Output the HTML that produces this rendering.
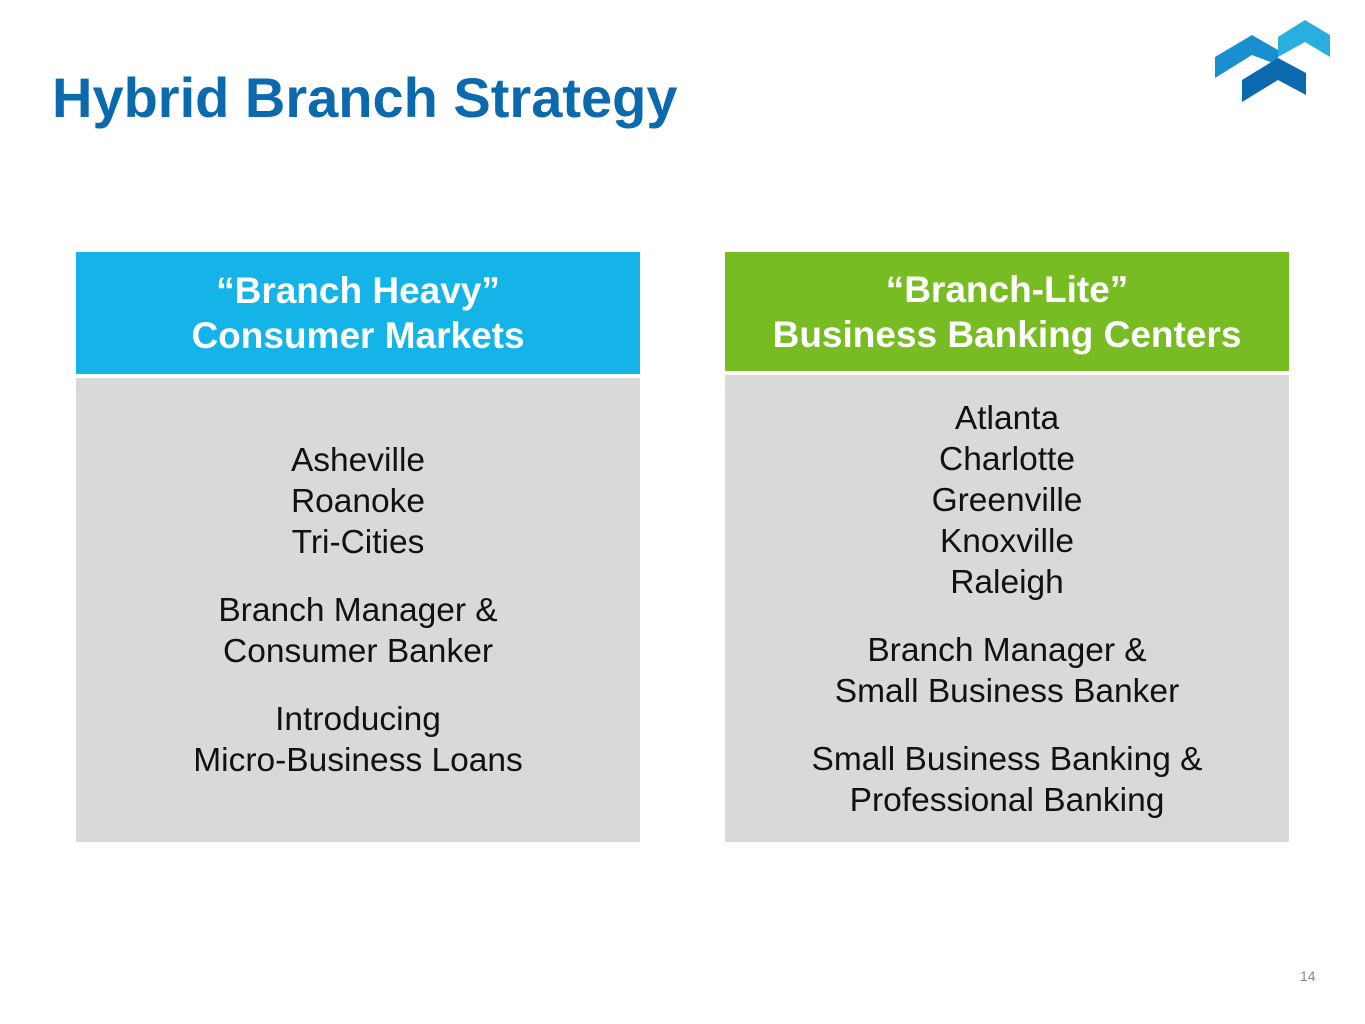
<!DOCTYPE html>
<html><head><style>
body{margin:0;width:1365px;height:1024px;background:#fff;position:relative;font-family:"Liberation Sans",Arial,sans-serif;overflow:hidden}
.t{position:absolute;left:52px;top:66px;font-size:56px;font-weight:bold;color:#0a6aad;line-height:64px}
.h{position:absolute;color:#fff;font-weight:bold;font-size:37px;text-align:center;line-height:45px;display:flex;align-items:center;justify-content:center}
.b{position:absolute;background:#d9d9d9;text-align:center;font-size:33.5px;color:#111;line-height:41px}
.b p{margin:0 0 27px 0}
</style></head><body>
<div class="t">Hybrid Branch Strategy</div>
<svg style="position:absolute;left:0;top:0" width="1365" height="120">
<polygon points="1215,57 1252,35 1278,50 1278,65 1252,55 1215,78" fill="#1a8fd0"/>
<polygon points="1278,37 1305,20 1330,35 1330,57 1305,42 1278,57" fill="#29aee0"/>
<polygon points="1242,80 1278,58 1306,73 1306,95 1278,80 1242,102" fill="#0a6aad"/>
</svg>
<div class="h" style="left:76px;top:252px;width:564px;height:122px;background:#14b3e8">“Branch Heavy”<br>Consumer Markets</div>
<div class="h" style="left:725px;top:252px;width:564px;height:119px;background:#77bc22">“Branch-Lite”<br>Business Banking Centers</div>
<div class="b" style="left:76px;top:378px;width:564px;height:464px;padding-top:62px;box-sizing:border-box">
<p>Asheville<br>Roanoke<br>Tri-Cities</p>
<p>Branch Manager &amp;<br>Consumer Banker</p>
<p>Introducing<br>Micro-Business Loans</p></div>
<div class="b" style="left:725px;top:375px;width:564px;height:467px;padding-top:23px;box-sizing:border-box">
<p>Atlanta<br>Charlotte<br>Greenville<br>Knoxville<br>Raleigh</p>
<p>Branch Manager &amp;<br>Small Business Banker</p>
<p>Small Business Banking &amp;<br>Professional Banking</p></div>
<div style="position:absolute;left:1300px;top:968px;font-size:14px;color:#888">14</div>
</body></html>
